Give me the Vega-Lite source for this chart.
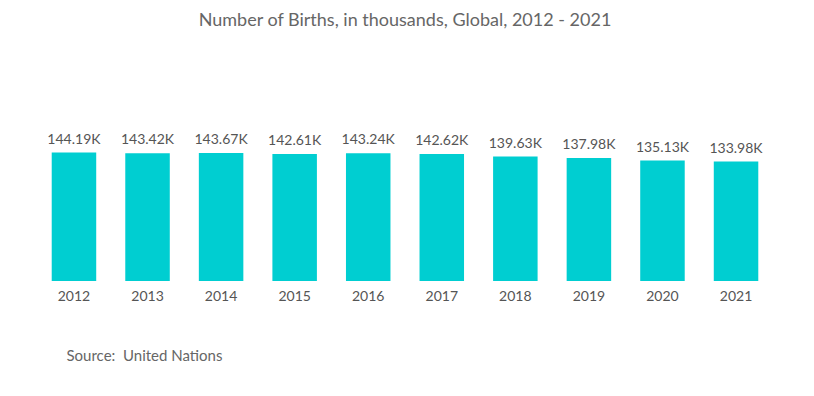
{
  "$schema": "https://vega.github.io/schema/vega-lite/v6.json",
  "autosize": {"type": "none"},
  "width": 736,
  "height": 221,
  "padding": {"left": 37, "top": 60, "right": 41, "bottom": 115},
  "background": "white",
  "config": {"view": {"stroke": null}, "font": "Lato"},
  "title": {
    "text": "Number of Births, in thousands, Global, 2012 - 2021",
    "anchor": "middle",
    "font": "Lato",
    "fontSize": 18,
    "fontWeight": "normal",
    "color": "#666666",
    "offset": 30
  },
  "data": {
    "values": [
      {"year": "2012", "births": 144.19},
      {"year": "2013", "births": 143.42},
      {"year": "2014", "births": 143.67},
      {"year": "2015", "births": 142.61},
      {"year": "2016", "births": 143.24},
      {"year": "2017", "births": 142.62},
      {"year": "2018", "births": 139.63},
      {"year": "2019", "births": 137.98},
      {"year": "2020", "births": 135.13},
      {"year": "2021", "births": 133.98}
    ]
  },
  "transform": [{"calculate": "format(datum.births, '.2f') + 'K'", "as": "label"}],
  "encoding": {
    "x": {
      "field": "year",
      "type": "nominal",
      "scale": {"paddingInner": 0.395, "paddingOuter": 0.2},
      "axis": {
        "title": "Source:\u00a0\u00a0United Nations",
        "titleFont": "Lato",
        "titleFontSize": 15,
        "titleFontWeight": "normal",
        "titleColor": "#666666",
        "titleAnchor": "start",
        "titleAlign": "left",
        "titleBaseline": "alphabetic",
        "titleX": 29,
        "titleY": 79,
        "labelAngle": 0,
        "labelFont": "Lato",
        "labelFontSize": 14,
        "labelColor": "#555555",
        "labelPadding": 8,
        "ticks": false,
        "domain": false,
        "grid": false
      }
    },
    "y": {
      "field": "births",
      "type": "quantitative",
      "scale": {"domain": [0, 248], "nice": false},
      "axis": null
    }
  },
  "layer": [
    {"mark": {"type": "bar", "color": "#00CED1"}},
    {
      "mark": {"type": "text", "baseline": "bottom", "dy": -6, "font": "Lato", "fontSize": 14, "color": "#555555"},
      "encoding": {"text": {"field": "label"}}
    }
  ]
}
